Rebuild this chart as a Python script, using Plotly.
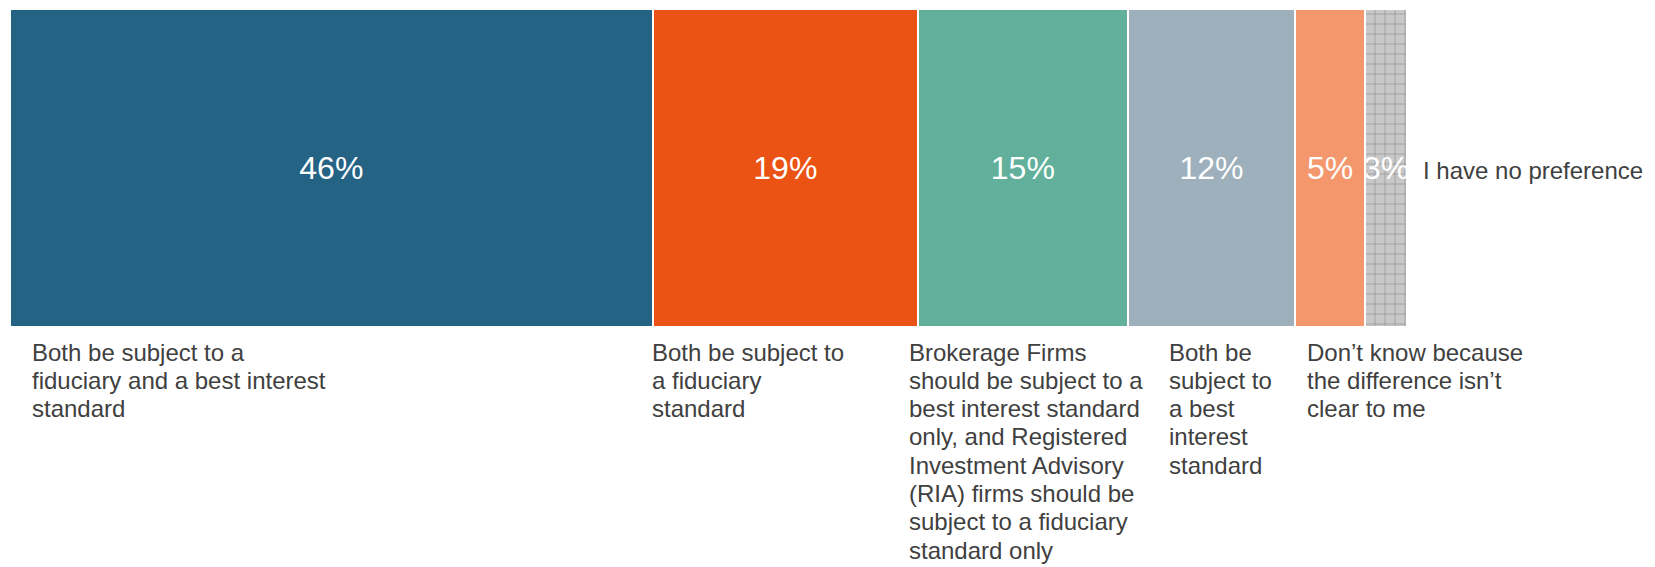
"""Stacked 100% bar — preference on standards for brokerage / RIA firms."""

import plotly.graph_objects as go

categories = [
    "Both be subject to a<br>fiduciary and a best interest<br>standard",
    "Both be subject to<br>a fiduciary<br>standard",
    "Brokerage Firms<br>should be subject to a<br>best interest standard<br>only, and Registered<br>Investment Advisory<br>(RIA) firms should be<br>subject to a fiduciary<br>standard only",
    "Both be<br>subject to<br>a best<br>interest<br>standard",
    "Don\u2019t know because<br>the difference isn\u2019t<br>clear to me",
    "I have no preference",
]
values = [46, 19, 15, 12, 5, 3]
value_labels = ["46%", "19%", "15%", "12%", "5%", "3%"]

_COLORS = ["#246384", "#ea5314", "#62b09c", "#9db0bb", "#f4976d", "#c4c4c4"]
_FONT = "Arial, Liberation Sans, sans-serif"
_TEXT = "#404040"

# pixel nudges for the captions under the bar (left edge of each caption)
_CAPTION_SHIFT = [20, -3, -11, 39, 10]
_LINE_GAP = 28.3

fig = go.Figure()

for i, (cat, val, lab) in enumerate(zip(categories, values, value_labels)):
    pattern = None
    if i == len(values) - 1:
        pattern = dict(shape="+", bgcolor="#c8c8c8", fgcolor="#8a8a8a",
                       size=10, solidity=0.12, fillmode="replace")
    fig.add_trace(
        go.Bar(
            x=[val],
            y=[0],
            orientation="h",
            width=1,
            name=cat,
            text=[lab],
            textposition="inside",
            insidetextanchor="middle",
            textangle=0,
            constraintext="none",
            textfont=dict(color="white", size=32, family=_FONT),
            marker=dict(color=_COLORS[i], line=dict(color="white", width=2),
                        pattern=pattern),
            hoverinfo="skip",
        )
    )

# captions under the bar, one annotation per line to keep the tight leading
start = 0
for i, (cat, val) in enumerate(zip(categories, values)):
    if i < len(_CAPTION_SHIFT):
        for j, line in enumerate(cat.split("<br>")):
            fig.add_annotation(
                x=start, y=-0.5, xref="x", yref="y",
                text=line, showarrow=False,
                xanchor="left", yanchor="middle",
                xshift=_CAPTION_SHIFT[i], yshift=-25 - j * _LINE_GAP,
                font=dict(size=24, color=_TEXT, family=_FONT),
            )
    else:
        fig.add_annotation(
            x=start + val, y=0, xref="x", yref="y",
            text=cat, showarrow=False,
            xanchor="left", yanchor="middle",
            xshift=14, yshift=-2,
            font=dict(size=24, color=_TEXT, family=_FONT),
        )
    start += val

# page body keeps an 8px margin, so the figure is sized/offset to match
fig.update_layout(
    barmode="stack",
    width=1647,
    height=559,
    margin=dict(l=2, r=248, t=1, b=240),
    paper_bgcolor="white",
    plot_bgcolor="white",
    showlegend=False,
    font=dict(family=_FONT, color=_TEXT),
    xaxis=dict(range=[0, 100], visible=False, fixedrange=True),
    yaxis=dict(range=[-0.5, 0.5], visible=False, fixedrange=True),
)

fig.write_html("out.html")
